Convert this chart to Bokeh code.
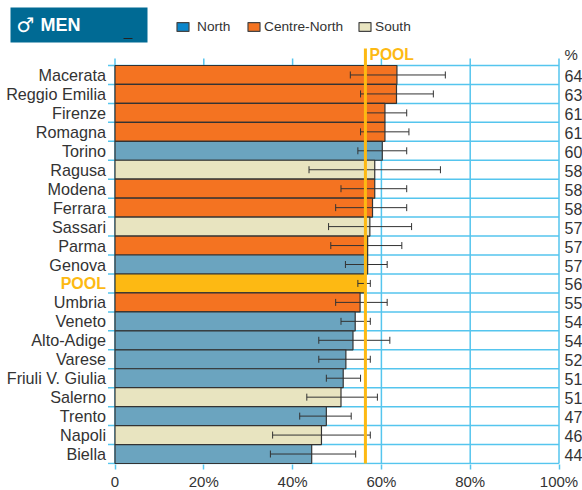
from bokeh.plotting import figure
from bokeh.embed import file_html
from bokeh.resources import INLINE
from bokeh.core.properties import value
from bokeh.models import (ColumnDataSource, FixedTicker, LinearAxis, Whisker, TeeHead, Label,
                          BoxAnnotation, Legend, LegendItem, Range1d)

cities = ["Macerata","Reggio Emilia","Firenze","Romagna","Torino","Ragusa","Modena","Ferrara","Sassari","Parma","Genova",
          "POOL","Umbria","Veneto","Alto-Adige","Varese","Friuli V. Giulia","Salerno","Trento","Napoli","Biella"]
areas = ["C","C","C","C","N","S","C","C","S","C","N","P","C","N","N","N","N","S","N","S","N"]
values = [63.5,63.4,60.8,60.8,60.2,58.5,58.5,58.0,57.4,56.9,56.9,56.4,55.2,54.1,53.6,52.0,51.4,50.9,47.6,46.5,44.3]
lower = [53.0,55.3,56.3,55.3,54.7,43.7,50.9,49.7,48.1,48.6,51.9,54.7,49.7,50.9,45.9,45.9,47.6,43.2,41.6,35.5,35.0]
upper = [74.4,71.7,65.7,66.2,65.7,73.3,65.7,65.7,66.8,64.6,61.3,57.5,61.3,57.5,61.9,57.5,55.3,59.1,53.2,57.5,54.2]
shown = ["64","63","61","61","60","58","58","58","57","57","57","56","55","54","54","52","51","51","47","46","44"]
pool_value = 56.4
xticks = [0,20,40,60,80,100]
xlabels = ["0","20%","40%","60%","80%","100%"]
bar_colors = {"C":"#F47321","N":"#6BA4BF","S":"#E8E4C0","P":"#FDB913"}
legend_names = ["North","Centre-North","South"]
legend_colors = ["#0A86CB","#F47321","#E8E4C0"]
legend_px = [175,246,357]
legend_standoff = [7,3,3]

BLUE = "#55C5EE"; DARK = "#333333"; POOLC = "#FDB913"; FONT = "Liberation Sans"
n = len(cities)
ys = [n-0.5-i for i in range(n)]
bounds = list(range(n+1))

# The frame covers the whole page width and everything above the x axis,
# so that row labels, header and legend are inside it.
W, H, FH = 582, 490, 464
PX_X = 4.44; PX_Y = 398/21
x0_px, y0_px = 114.5, 463
p = figure(width=W, height=H, output_backend="svg", toolbar_location=None,
           x_range=Range1d(-x0_px/PX_X, (W-x0_px)/PX_X),
           y_range=Range1d((y0_px-FH)/PX_Y, y0_px/PX_Y),
           frame_width=W, frame_height=FH,
           min_border_left=0, min_border_top=0, min_border_right=0, min_border_bottom=H-FH,
           x_axis_location=None, y_axis_location=None, outline_line_color=None)
p.styles = {"position":"absolute","left":"0px","top":"0px"}
p.xgrid.visible = False; p.ygrid.visible = False

bottom = LinearAxis(ticker=FixedTicker(ticks=xticks), bounds=(0,100))
bottom.axis_line_color = None
bottom.major_tick_line_color = BLUE; bottom.major_tick_line_width = 1.5
bottom.major_tick_out = 5; bottom.major_tick_in = 0
bottom.minor_tick_out = 0; bottom.minor_tick_in = 0
bottom.major_label_standoff = 3
bottom.major_label_text_font = FONT; bottom.major_label_text_color = DARK
bottom.major_label_text_font_size = "15px"
bottom.major_label_overrides = {x:l for x,l in zip(xticks,xlabels)}
p.add_layout(bottom,"below")

# rules that run slightly past the plot on the left and at the top: the short stubs of the original
p.segment(x0=xticks, x1=xticks, y0=[0]*len(xticks), y1=[n+7/PX_Y]*len(xticks), line_color=BLUE, line_width=1.5)
p.segment(x0=[-7/PX_X]*len(bounds), x1=[100]*len(bounds), y0=bounds, y1=bounds, line_color=BLUE, line_width=1.5)

src = ColumnDataSource(dict(y=ys, v=values, lo=lower, hi=upper, c=[bar_colors[a] for a in areas],
                            name=cities, shown=shown,
                            tc=[POOLC if c=="POOL" else DARK for c in cities],
                            tw=["bold" if c=="POOL" else "normal" for c in cities],
                            ts=["16px" if c=="POOL" else "16.2px" for c in cities]))
p.hbar(y="y", right="v", left=0, height=1, fill_color="c", line_color=DARK, line_width=1.2, source=src)

p.text(x=0, y="y", text="name", x_offset=-9, y_offset=0, source=src, text_align="right", text_baseline="middle",
       text_font=value(FONT), text_font_size="ts", text_color="tc", text_font_style="tw")
p.text(x=100, y="y", text="shown", x_offset=5.5, y_offset=1, source=src, text_align="left", text_baseline="middle",
       text_font=value(FONT), text_font_size=value("16px"), text_color=DARK)

w = Whisker(source=src, base="y", lower="lo", upper="hi", dimension="width",
            line_color=DARK, line_width=1, level="overlay",
            lower_head=TeeHead(size=7, line_color=DARK, line_width=1),
            upper_head=TeeHead(size=7, line_color=DARK, line_width=1))
p.add_layout(w)

p.add_layout(BoxAnnotation(left=pool_value-0.34, right=pool_value+0.34, bottom=0, top=n+0.9, level="overlay",
                           fill_color=POOLC, fill_alpha=1, line_color=None))
p.add_layout(Label(x=pool_value, y=n, x_offset=4, y_offset=3, text="POOL", text_font=FONT, text_font_size="15.7px",
                   text_font_style="bold", text_color=POOLC))
p.add_layout(Label(x=100, y=n, x_offset=5.5, y_offset=3, text="%", text_font=FONT, text_font_size="15px", text_color=DARK))

p.add_layout(BoxAnnotation(left=10, right=147, top=7, bottom=42, left_units="canvas", right_units="canvas",
                           top_units="canvas", bottom_units="canvas", fill_color="#006A94", fill_alpha=1, line_color=None))
p.add_layout(BoxAnnotation(left=123, right=132, top=37.5, bottom=38.5, left_units="canvas", right_units="canvas",
                           top_units="canvas", bottom_units="canvas", fill_color="#222222", fill_alpha=1, line_color=None))
p.add_layout(Label(x=16, y=24, x_units="canvas", y_units="canvas", text="\u2642", text_font="DejaVu Sans",
                   text_font_size="20px", text_color="white", text_baseline="middle"))
p.add_layout(Label(x=40, y=24, x_units="canvas", y_units="canvas", text="MEN", text_font=FONT,
                   text_font_size="18px", text_font_style="bold", text_color="white", text_baseline="middle"))

# legend keys: hidden placeholder bars, since the key colours differ from the bars'
for name, col, lx, so in zip(legend_names, legend_colors, legend_px, legend_standoff):
    r = p.hbar(y=[-10], right=[-50], left=[-60], height=1, fill_color=col, line_color="#444444", line_width=1.2, visible=False)
    p.add_layout(Legend(items=[LegendItem(label=name, renderers=[r])], location=(lx, FH-34), glyph_width=15, glyph_height=11,
                        label_standoff=so, padding=0, margin=0, border_line_color=None, background_fill_alpha=0,
                        label_text_font=FONT, label_text_font_size="13.7px", label_text_color=DARK))

open("out.html","w").write(file_html(p, INLINE))
